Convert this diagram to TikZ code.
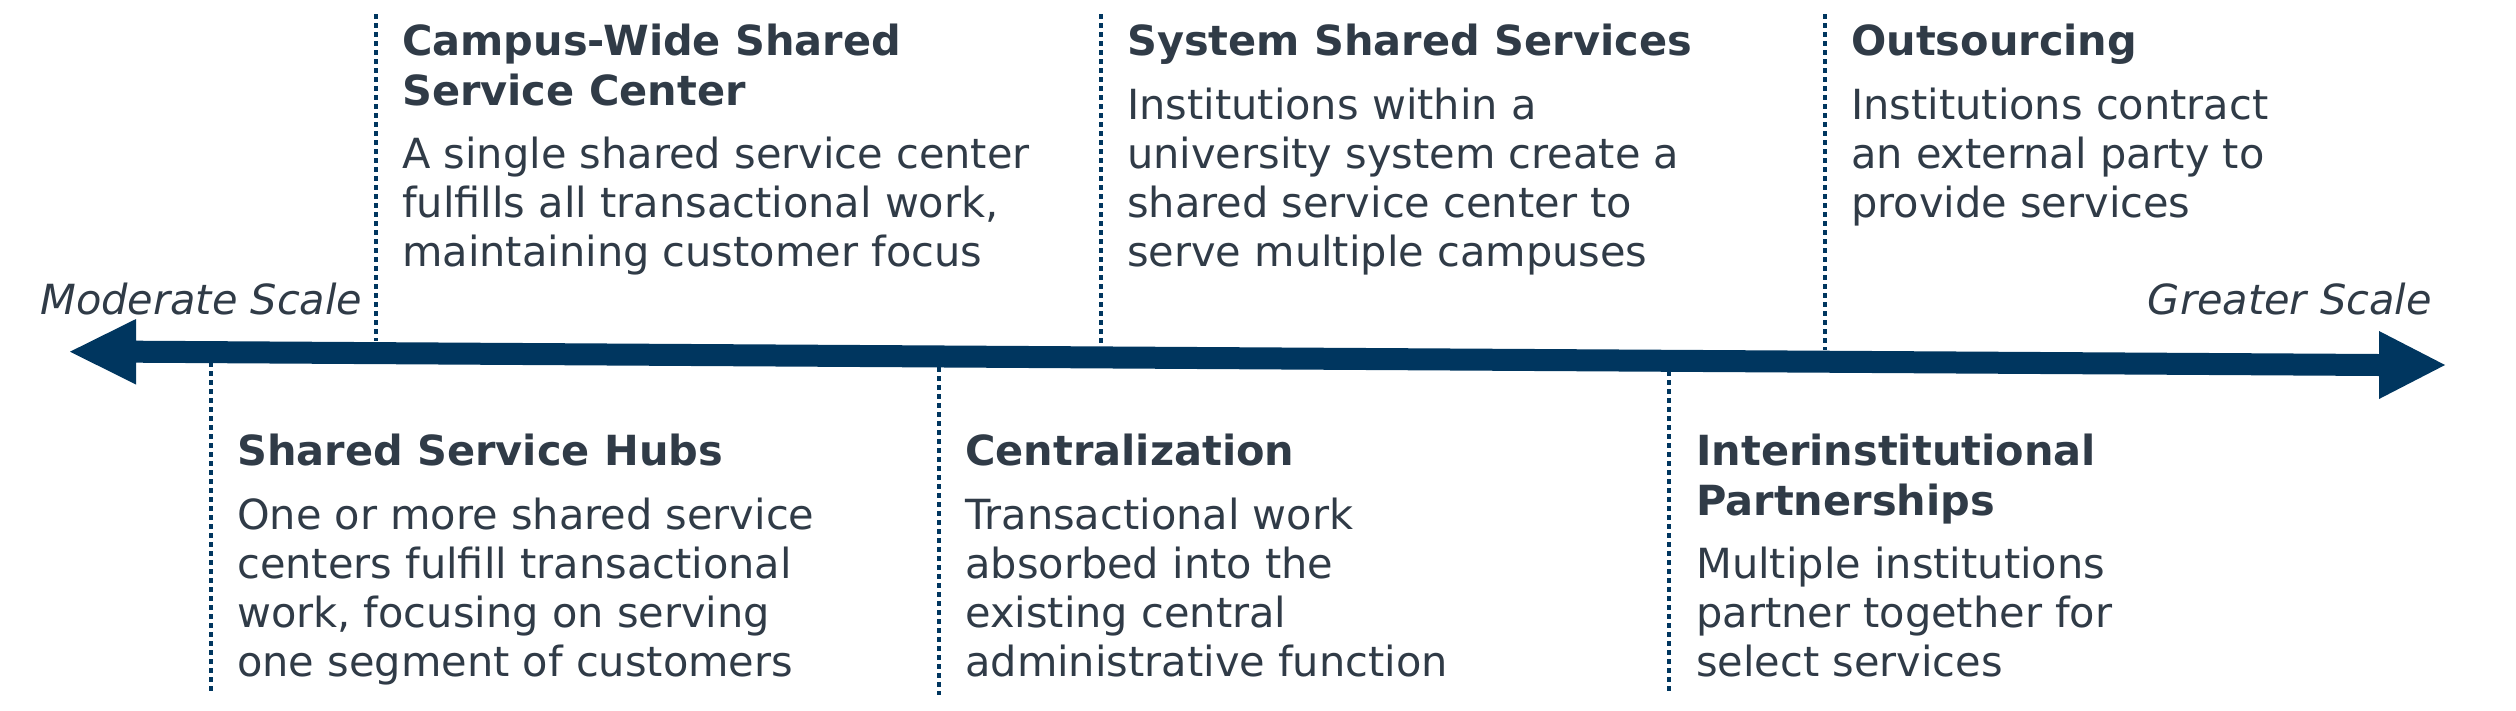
\documentclass[tikz,border=0pt]{standalone}
\usepackage{fontspec}
\setmainfont{DejaVu Sans}
\definecolor{navy}{HTML}{00365F}
\definecolor{txt}{HTML}{303B47}
\newcommand\ls[1]{\begin{tabular}[t]{@{}l@{}}#1\end{tabular}}
\begin{document}
\begin{tikzpicture}[x=1pt,y=-1pt,
  ttl/.style={anchor=base west, inner sep=0pt, text=txt, font=\fontsize{41.5}{50}\selectfont\bfseries},
  body/.style={anchor=base west, inner sep=0pt, text=txt, font=\fontsize{41.5}{49}\selectfont},
  scl/.style={inner sep=0pt, text=txt, font=\fontsize{41.5}{49}\selectfont\itshape},
  dots/.style={draw=navy, line width=4pt, dash pattern=on 4.5pt off 4.5pt}]
\useasboundingbox (0,0) rectangle (2516,710);
% scale arrow
\fill[navy] (70,351.7) -- (136,319) -- (136,340.7) -- (2379,354) -- (2379,331) -- (2445,365)
  -- (2379,399) -- (2379,376) -- (136,362.7) -- (136,384.5) -- cycle;
% dotted markers
\draw[dots] (376,14) -- (376,341);
\draw[dots] (1101,14) -- (1101,346);
\draw[dots] (1825,14) -- (1825,350);
\draw[dots] (211,362) -- (211,695);
\draw[dots] (939,367) -- (939,695);
\draw[dots] (1669,371) -- (1669,695);
% scale labels
\node[scl, anchor=base west] (mod) at (40,314.5) {Moderate Scale};
\node[scl, anchor=base east] (gre) at (2432,314.5) {Greater Scale};
% top blocks
\node[ttl] (t1) at (402,55) {\ls{Campus-Wide Shared\\Service Center}};
\node[body] (b1) at (402,168) {\ls{A single shared service center\\fulfills all transactional work,\\maintaining customer focus}};
\node[ttl] (t2) at (1127,55) {System Shared Services};
\node[body] (b2) at (1127,119) {\ls{Institutions within a\\university system create a\\shared service center to\\serve multiple campuses}};
\node[ttl] (t3) at (1851,55) {Outsourcing};
\node[body] (b3) at (1851,119) {\ls{Institutions contract\\an external party to\\provide services}};
% bottom blocks
\node[ttl] (t4) at (237,465) {Shared Service Hubs};
\node[body] (b4) at (237,529) {\ls{One or more shared service\\centers fulfill transactional\\work, focusing on serving\\one segment of customers}};
\node[ttl] (t5) at (965,465) {Centralization};
\node[body] (b5) at (965,529) {\ls{Transactional work\\absorbed into the\\existing central\\administrative function}};
\node[ttl] (t6) at (1696,465) {\ls{Interinstitutional\\Partnerships}};
\node[body] (b6) at (1696,578) {\ls{Multiple institutions\\partner together for\\select services}};
\end{tikzpicture}
\end{document}
